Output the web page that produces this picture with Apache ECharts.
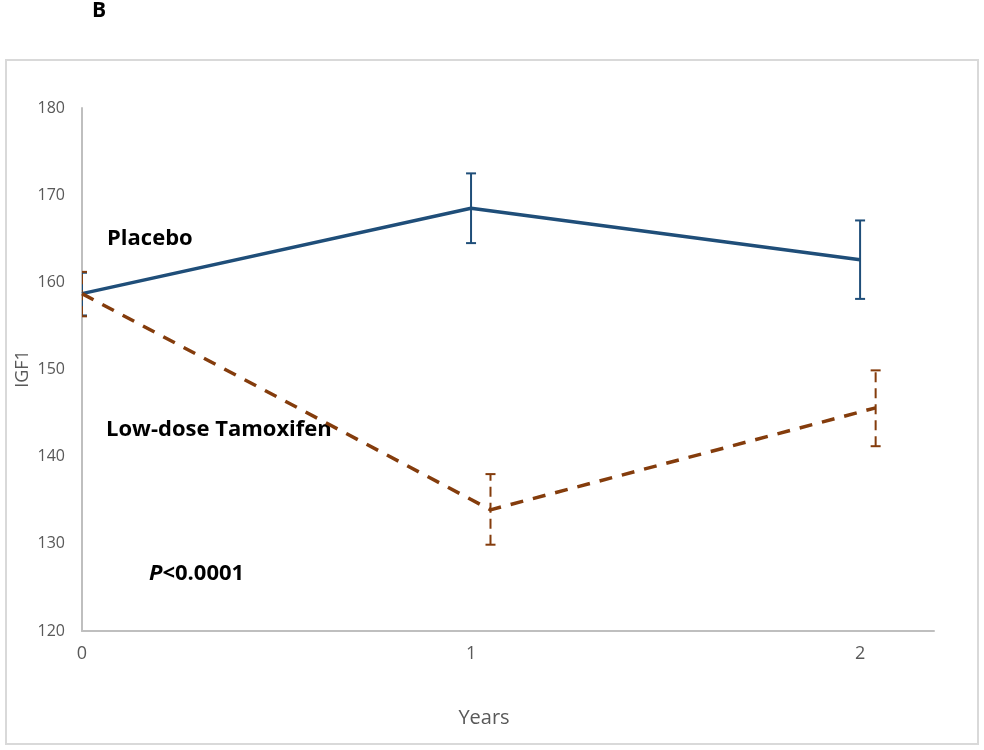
<!DOCTYPE html>
<html>
<head>
<meta charset="utf-8">
<script src="https://cdn.jsdelivr.net/npm/echarts@6/dist/echarts.min.js"></script>
<style>
html,body{margin:0;padding:0;background:#fff;}
#main{width:984px;height:750px;}
</style>
</head>
<body>
<div id="main"></div>
<script>
// Data
const yTicks = [120, 130, 140, 150, 160, 170, 180];
const xTicks = [0, 1, 2];
const placeboX = [0, 1, 2];
const placeboMean = [158.7, 168.5, 162.6];
const placeboLow = [156.2, 164.5, 158.1];
const placeboHigh = [161.1, 172.5, 167.1];
const tamoxX = [0, 1.05, 2.04];
const tamoxMean = [158.7, 133.9, 145.6];
const tamoxLow = [156.1, 129.9, 141.2];
const tamoxHigh = [161.2, 138.0, 149.9];

const blue = '#1f4e79';
const brown = '#843c0c';

function pts(xs, ys) { return xs.map((x, i) => [x, ys[i]]); }
function errData(xs, lo, hi) { return xs.map((x, i) => [x, lo[i], hi[i]]); }

function errRender(color, dashed) {
  return function (params, api) {
    const x = api.value(0);
    const lo = api.coord([x, api.value(1)]);
    const hi = api.coord([x, api.value(2)]);
    const hw = 5;
    const st = { stroke: color, lineWidth: 2, lineDash: dashed ? [10, 6] : null };
    const cst = { stroke: color, lineWidth: 2 };
    return {
      type: 'group',
      children: [
        { type: 'line', shape: { x1: lo[0], y1: lo[1], x2: hi[0], y2: hi[1] }, style: st },
        { type: 'line', shape: { x1: hi[0] - hw, y1: hi[1], x2: hi[0] + hw, y2: hi[1] }, style: cst },
        { type: 'line', shape: { x1: lo[0] - hw, y1: lo[1], x2: lo[0] + hw, y2: lo[1] }, style: cst }
      ]
    };
  };
}

const chart = echarts.init(document.getElementById('main'));
chart.setOption({
  backgroundColor: '#fff',
  animation: false,
  grid: { left: 82, right: 50, top: 108, bottom: 119, containLabel: false },
  xAxis: {
    type: 'value', min: 0, max: 2.19, interval: 1,
    axisLine: { show: true, lineStyle: { color: '#bfbfbf', width: 2 } },
    axisTick: { show: false },
    splitLine: { show: false },
    axisLabel: {
      color: '#595959', fontSize: 18, fontFamily: 'Open Sans', margin: 14,
      formatter: v => (xTicks.indexOf(v) >= 0 ? String(v) : '')
    }
  },
  yAxis: {
    type: 'value', min: yTicks[0], max: yTicks[yTicks.length - 1], interval: 10,
    axisLine: { show: true, lineStyle: { color: '#bfbfbf', width: 2 } },
    axisTick: { show: false },
    splitLine: { show: false },
    axisLabel: { color: '#595959', fontSize: 16, fontFamily: 'Open Sans', margin: 17 }
  },
  series: [
    {
      type: 'custom', name: 'Placebo err', clip: true, z: 3,
      renderItem: errRender(blue, false),
      data: errData(placeboX, placeboLow, placeboHigh)
    },
    {
      type: 'custom', name: 'Tamox err', clip: true, z: 3,
      renderItem: errRender(brown, true),
      data: errData(tamoxX, tamoxLow, tamoxHigh)
    },
    {
      type: 'line', name: 'Placebo', data: pts(placeboX, placeboMean),
      showSymbol: false, symbol: 'none', z: 4,
      lineStyle: { color: blue, width: 3.5 }
    },
    {
      type: 'line', name: 'Low-dose Tamoxifen', data: pts(tamoxX, tamoxMean),
      showSymbol: false, symbol: 'none', z: 4,
      lineStyle: { color: brown, width: 3.5, type: [13, 10] }
    }
  ],
  graphic: [
    { type: 'rect', shape: { x: 6, y: 60, width: 972, height: 684 },
      style: { fill: 'none', stroke: '#d9d9d9', lineWidth: 2 }, z: 0 },
    { type: 'text', left: 92, top: 1, style: { text: 'B', font: 'bold 21px "Open Sans"', fill: '#000' } },
    { type: 'text', left: 107, top: 228, style: { text: 'Placebo', font: 'bold 22px "Open Sans"', fill: '#000' } },
    { type: 'text', left: 106, top: 419, style: { text: 'Low-dose Tamoxifen', font: 'bold 22px "Open Sans"', fill: '#000' } },
    { type: 'text', left: 149, top: 563, style: {
        text: '{i|P}{n|<0.0001}',
        rich: {
          i: { font: 'italic bold 22px "Open Sans"', fill: '#000' },
          n: { font: 'bold 22px "Open Sans"', fill: '#000' }
        }
      } },
    { type: 'text', x: 23, y: 369, rotation: Math.PI / 2,
      style: { text: 'IGF1', font: '18px "Open Sans"', fill: '#595959', align: 'center', verticalAlign: 'middle' } },
    { type: 'text', x: 484, y: 718, style: { text: 'Years', font: '20px "Open Sans"', fill: '#595959', align: 'center', verticalAlign: 'middle' } }
  ]
});
</script>
</body>
</html>
